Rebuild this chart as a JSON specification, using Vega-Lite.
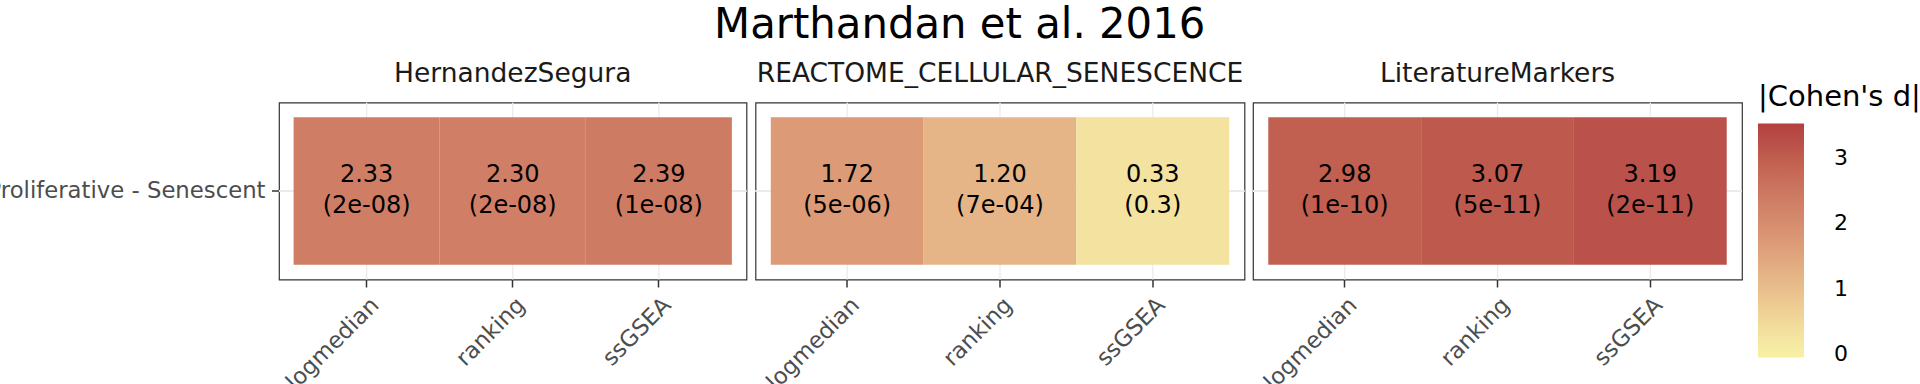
{
  "$schema": "https://vega.github.io/schema/vega-lite/v6.json",
  "padding": {"left": -14, "top": 4.5, "right": 0, "bottom": 0},
  "background": "white",
  "title": {"text": "Marthandan et al. 2016", "fontSize": 41.8, "fontWeight": "normal", "font": "DejaVu Sans", "color": "black", "anchor": "middle", "offset": 13.5, "dx": 6},
  "datasets": {
    "cohen": [
      {"signature": "HernandezSegura", "method": "logmedian", "comparison": "Proliferative - Senescent", "d": 2.33, "p": "(2e-08)"},
      {"signature": "HernandezSegura", "method": "ranking", "comparison": "Proliferative - Senescent", "d": 2.30, "p": "(2e-08)"},
      {"signature": "HernandezSegura", "method": "ssGSEA", "comparison": "Proliferative - Senescent", "d": 2.39, "p": "(1e-08)"},
      {"signature": "REACTOME_CELLULAR_SENESCENCE", "method": "logmedian", "comparison": "Proliferative - Senescent", "d": 1.72, "p": "(5e-06)"},
      {"signature": "REACTOME_CELLULAR_SENESCENCE", "method": "ranking", "comparison": "Proliferative - Senescent", "d": 1.20, "p": "(7e-04)"},
      {"signature": "REACTOME_CELLULAR_SENESCENCE", "method": "ssGSEA", "comparison": "Proliferative - Senescent", "d": 0.33, "p": "(0.3)"},
      {"signature": "LiteratureMarkers", "method": "logmedian", "comparison": "Proliferative - Senescent", "d": 2.98, "p": "(1e-10)"},
      {"signature": "LiteratureMarkers", "method": "ranking", "comparison": "Proliferative - Senescent", "d": 3.07, "p": "(5e-11)"},
      {"signature": "LiteratureMarkers", "method": "ssGSEA", "comparison": "Proliferative - Senescent", "d": 3.19, "p": "(2e-11)"}
    ]
  },
  "spacing": 8.5,
  "bounds": "flush",
  "hconcat": [
    {
      "width": 467.5, "height": 177,
      "data": {"name": "cohen"},
      "transform": [{"filter": "datum.signature === 'HernandezSegura'"}],
      "title": {"text": "HernandezSegura"},
      "layer": [
        {"mark": {"type": "rule", "color": "#ebebeb", "strokeWidth": 1.3},
         "encoding": {"x": {"field": "method", "type": "nominal", "sort": ["logmedian", "ranking", "ssGSEA"], "scale": {"paddingInner": 0, "paddingOuter": 0.1}, "axis": {"title": null}}}},
        {"mark": {"type": "rule", "color": "#ebebeb", "strokeWidth": 1.3},
         "encoding": {"y": {"field": "comparison", "type": "nominal", "scale": {"paddingInner": 0, "paddingOuter": 0.1}, "axis": {"title": null}}}},
        {"mark": {"type": "rect"},
         "encoding": {
           "x": {"field": "method", "type": "nominal", "sort": ["logmedian", "ranking", "ssGSEA"], "scale": {"paddingInner": 0, "paddingOuter": 0.1}, "axis": {"title": null}},
           "y": {"field": "comparison", "type": "nominal", "scale": {"paddingInner": 0, "paddingOuter": 0.1}, "axis": {"title": null}},
           "color": {"field": "d", "type": "quantitative", "title": "|Cohen's d|",
             "legend": {"titleFontSize": 29, "titleFontWeight": "normal", "values": [0, 1, 2, 3], "labelOffset": 30},
             "scale": {"domain": [-0.05, 0.33, 1.2, 1.72, 2.33, 2.98, 3.19, 3.52], "range": ["#f8f1a5", "#f3e2a0", "#e5b487", "#dc9a76", "#cf7e65", "#c15f50", "#ba514a", "#b3413f"]}}}},
        {"mark": {"type": "text", "dy": -16.5},
         "encoding": {
           "x": {"field": "method", "type": "nominal", "sort": ["logmedian", "ranking", "ssGSEA"], "scale": {"paddingInner": 0, "paddingOuter": 0.1}, "axis": {"title": null}},
           "y": {"field": "comparison", "type": "nominal", "scale": {"paddingInner": 0, "paddingOuter": 0.1}, "axis": {"title": null}},
           "text": {"field": "d", "type": "quantitative", "format": ".2f"}}},
        {"mark": {"type": "text", "dy": 15},
         "encoding": {
           "x": {"field": "method", "type": "nominal", "sort": ["logmedian", "ranking", "ssGSEA"], "scale": {"paddingInner": 0, "paddingOuter": 0.1}, "axis": {"title": null}},
           "y": {"field": "comparison", "type": "nominal", "scale": {"paddingInner": 0, "paddingOuter": 0.1}, "axis": {"title": null}},
           "text": {"field": "p", "type": "nominal"}}}
      ]
    },
    {
      "width": 489, "height": 177,
      "data": {"name": "cohen"},
      "transform": [{"filter": "datum.signature === 'REACTOME_CELLULAR_SENESCENCE'"}],
      "title": {"text": "REACTOME_CELLULAR_SENESCENCE"},
      "layer": [
        {"mark": {"type": "rule", "color": "#ebebeb", "strokeWidth": 1.3},
         "encoding": {"x": {"field": "method", "type": "nominal", "sort": ["logmedian", "ranking", "ssGSEA"], "scale": {"paddingInner": 0, "paddingOuter": 0.1}, "axis": {"title": null}}}},
        {"mark": {"type": "rule", "color": "#ebebeb", "strokeWidth": 1.3},
         "encoding": {"y": {"field": "comparison", "type": "nominal", "scale": {"paddingInner": 0, "paddingOuter": 0.1}, "axis": null}}},
        {"mark": {"type": "rect"},
         "encoding": {
           "x": {"field": "method", "type": "nominal", "sort": ["logmedian", "ranking", "ssGSEA"], "scale": {"paddingInner": 0, "paddingOuter": 0.1}, "axis": {"title": null}},
           "y": {"field": "comparison", "type": "nominal", "scale": {"paddingInner": 0, "paddingOuter": 0.1}, "axis": null},
           "color": {"field": "d", "type": "quantitative", "title": "|Cohen's d|",
             "legend": {"titleFontSize": 29, "titleFontWeight": "normal", "values": [0, 1, 2, 3], "labelOffset": 30},
             "scale": {"domain": [-0.05, 0.33, 1.2, 1.72, 2.33, 2.98, 3.19, 3.52], "range": ["#f8f1a5", "#f3e2a0", "#e5b487", "#dc9a76", "#cf7e65", "#c15f50", "#ba514a", "#b3413f"]}}}},
        {"mark": {"type": "text", "dy": -16.5},
         "encoding": {
           "x": {"field": "method", "type": "nominal", "sort": ["logmedian", "ranking", "ssGSEA"], "scale": {"paddingInner": 0, "paddingOuter": 0.1}, "axis": {"title": null}},
           "y": {"field": "comparison", "type": "nominal", "scale": {"paddingInner": 0, "paddingOuter": 0.1}, "axis": null},
           "text": {"field": "d", "type": "quantitative", "format": ".2f"}}},
        {"mark": {"type": "text", "dy": 15},
         "encoding": {
           "x": {"field": "method", "type": "nominal", "sort": ["logmedian", "ranking", "ssGSEA"], "scale": {"paddingInner": 0, "paddingOuter": 0.1}, "axis": {"title": null}},
           "y": {"field": "comparison", "type": "nominal", "scale": {"paddingInner": 0, "paddingOuter": 0.1}, "axis": null},
           "text": {"field": "p", "type": "nominal"}}}
      ]
    },
    {
      "width": 489, "height": 177,
      "data": {"name": "cohen"},
      "transform": [{"filter": "datum.signature === 'LiteratureMarkers'"}],
      "title": {"text": "LiteratureMarkers"},
      "layer": [
        {"mark": {"type": "rule", "color": "#ebebeb", "strokeWidth": 1.3},
         "encoding": {"x": {"field": "method", "type": "nominal", "sort": ["logmedian", "ranking", "ssGSEA"], "scale": {"paddingInner": 0, "paddingOuter": 0.1}, "axis": {"title": null}}}},
        {"mark": {"type": "rule", "color": "#ebebeb", "strokeWidth": 1.3},
         "encoding": {"y": {"field": "comparison", "type": "nominal", "scale": {"paddingInner": 0, "paddingOuter": 0.1}, "axis": null}}},
        {"mark": {"type": "rect"},
         "encoding": {
           "x": {"field": "method", "type": "nominal", "sort": ["logmedian", "ranking", "ssGSEA"], "scale": {"paddingInner": 0, "paddingOuter": 0.1}, "axis": {"title": null}},
           "y": {"field": "comparison", "type": "nominal", "scale": {"paddingInner": 0, "paddingOuter": 0.1}, "axis": null},
           "color": {"field": "d", "type": "quantitative", "title": "|Cohen's d|",
             "legend": {"titleFontSize": 29, "titleFontWeight": "normal", "values": [0, 1, 2, 3], "labelOffset": 30},
             "scale": {"domain": [-0.05, 0.33, 1.2, 1.72, 2.33, 2.98, 3.19, 3.52], "range": ["#f8f1a5", "#f3e2a0", "#e5b487", "#dc9a76", "#cf7e65", "#c15f50", "#ba514a", "#b3413f"]}}}},
        {"mark": {"type": "text", "dy": -16.5},
         "encoding": {
           "x": {"field": "method", "type": "nominal", "sort": ["logmedian", "ranking", "ssGSEA"], "scale": {"paddingInner": 0, "paddingOuter": 0.1}, "axis": {"title": null}},
           "y": {"field": "comparison", "type": "nominal", "scale": {"paddingInner": 0, "paddingOuter": 0.1}, "axis": null},
           "text": {"field": "d", "type": "quantitative", "format": ".2f"}}},
        {"mark": {"type": "text", "dy": 15},
         "encoding": {
           "x": {"field": "method", "type": "nominal", "sort": ["logmedian", "ranking", "ssGSEA"], "scale": {"paddingInner": 0, "paddingOuter": 0.1}, "axis": {"title": null}},
           "y": {"field": "comparison", "type": "nominal", "scale": {"paddingInner": 0, "paddingOuter": 0.1}, "axis": null},
           "text": {"field": "p", "type": "nominal"}}}
      ]
    }
  ],
  "resolve": {"scale": {"color": "shared"}},
  "config": {
    "font": "DejaVu Sans",
    "view": {"stroke": "#333333", "strokeWidth": 1.2},
    "title": {"fontSize": 26.5, "fontWeight": "normal", "color": "#1a1a1a", "anchor": "middle", "baseline": "alphabetic", "offset": 14},
    "text": {"fontSize": 24, "color": "black", "baseline": "middle"},
    "axis": {
      "domain": false, "grid": false, "bandPosition": 0.5,
      "tickColor": "#333333", "tickWidth": 1.5, "tickSize": 7.5,
      "labelFont": "DejaVu Sans", "labelFontSize": 22.75, "labelColor": "#4d4d4d", "labelPadding": 6.5, "labelLimit": 500
    },
    "axisX": {"labelAngle": -45, "labelAlign": "right", "labelBaseline": "middle", "labelPadding": 14, "labelOffset": 8.5},
    "legend": {
      "orient": "none", "legendX": 1479, "legendY": -20,
      "gradientLength": 234, "gradientThickness": 46, "gradientStrokeWidth": 0,
      "titleFontSize": 29, "titleFontWeight": "normal", "titleColor": "black", "titlePadding": 12, "titleLimit": 400,
      "labelFontSize": 22, "labelColor": "black", "labelOffset": 30, "labelBaseline": "middle"
    }
  }
}
